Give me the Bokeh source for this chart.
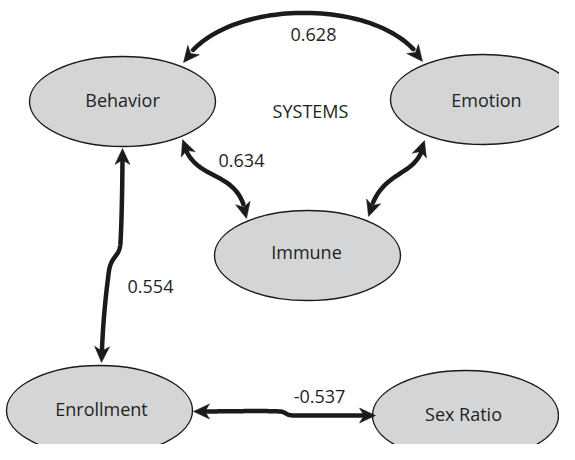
import numpy as np
from bokeh.plotting import figure
from bokeh.models import Range1d
from bokeh.embed import file_html
from bokeh.resources import INLINE
from bokeh.core.properties import value

# ---- data ----
nodes = ["Behavior", "Emotion", "Immune", "Enrollment", "Sex Ratio"]
edge_from = ["Behavior", "Behavior", "Emotion", "Behavior", "Enrollment"]
edge_to = ["Emotion", "Immune", "Immune", "Enrollment", "Sex Ratio"]
edge_values = [0.628, 0.634, None, 0.554, -0.537]
group_label = "SYSTEMS"

# ---- layout (pixel-like coordinates, y downwards) ----
node_xy = {
    "Behavior": (122, 101),
    "Emotion": (483, 99),
    "Immune": (307, 255),
    "Enrollment": (99, 410),
    "Sex Ratio": (465, 415),
}
node_label_xy = {
    "Behavior": (122, 99),
    "Emotion": (486, 99),
    "Immune": (306, 251),
    "Enrollment": (101, 408),
    "Sex Ratio": (463, 413),
}
node_w, node_h = 186, 90

edge_paths = [
    [[(183, 62), (222, -4), (385, -4), (422, 61)]],
    [[(182, 139), (192, 185), (240, 165), (246, 218)]],
    [[(424, 140), (418, 180), (380, 165), (368, 216)]],
    [[(122, 148), (122, 185), (121, 225), (120, 242)],
     [(120, 242), (119, 258), (110, 254), (108, 274)],
     [(108, 274), (104, 305), (102, 330), (101, 362)]],
    [[(193, 411), (230, 411), (260, 410), (280, 411)],
     [(280, 411), (287, 412), (284, 415), (295, 415)],
     [(295, 415), (320, 415), (350, 415), (375, 415)]],
]
edge_label_xy = [(313, 34), (241, 160), None, (150, 286), (319, 396)]
group_label_xy = (310, 110)

INK = "#1c1a1a"
TXT = "#231f20"
FILL = "#d4d5d7"
FONT = "Open Sans"
FS = "18px"


def bezier(seg, n=60):
    p = np.array(seg, dtype=float)
    t = np.linspace(0, 1, n)[:, None]
    return ((1 - t) ** 3) * p[0] + 3 * ((1 - t) ** 2) * t * p[1] + 3 * (1 - t) * t * t * p[2] + (t ** 3) * p[3]


def sample(path):
    pts = [bezier(s) for s in path]
    return np.vstack(pts)


HEAD_L, HEAD_W, NOTCH = 16, 7.5, 4.5


def head(pts, tip_index):
    tip = pts[tip_index]
    order = pts[::-1] if tip_index == -1 else pts
    dist = np.hypot(order[:, 0] - tip[0], order[:, 1] - tip[1])
    k = np.argmax(dist >= HEAD_L)
    back = order[k]
    d = tip - back
    d = d / np.hypot(*d)
    n = np.array([-d[1], d[0]])
    poly = [tip, tip - HEAD_L * d + HEAD_W * n, tip - (HEAD_L - NOTCH) * d, tip - HEAD_L * d - HEAD_W * n]
    return [q[0] for q in poly], [q[1] for q in poly]


def trim(pts, amount):
    a = pts[0]
    b = pts[-1]
    da = np.hypot(pts[:, 0] - a[0], pts[:, 1] - a[1])
    db = np.hypot(pts[:, 0] - b[0], pts[:, 1] - b[1])
    keep = (da >= amount) & (db >= amount)
    return pts[keep]


p = figure(width=559, height=444, output_backend="svg", toolbar_location=None,
           x_range=Range1d(0, 559), y_range=Range1d(444, 0), min_border=0)
p.axis.visible = False
p.grid.visible = False
p.outline_line_color = None
p.background_fill_color = "white"
p.border_fill_color = "white"

# nodes
p.ellipse(x=[node_xy[n][0] for n in nodes], y=[node_xy[n][1] for n in nodes],
          width=node_w, height=node_h, fill_color=FILL, line_color=INK, line_width=1.4)
p.text(x=[node_label_xy[n][0] for n in nodes], y=[node_label_xy[n][1] for n in nodes], text=nodes,
       text_font=value(FONT), text_font_size=FS, text_color=TXT,
       text_align="center", text_baseline="middle")

# edges
for i, (a, b) in enumerate(zip(edge_from, edge_to)):
    pts = sample(edge_paths[i])
    line = trim(pts, HEAD_L - NOTCH + 1)
    p.line(line[:, 0], line[:, 1], line_color=INK, line_width=4.5, line_cap="round", line_join="round")
    for ti in (0, -1):
        hx, hy = head(pts, ti)
        p.patch(hx, hy, fill_color=INK, line_color=INK, line_width=0.5)
    v = edge_values[i]
    if v is not None and edge_label_xy[i] is not None:
        lx, ly = edge_label_xy[i]
        p.text(x=[lx], y=[ly], text=[f"{v:.3f}"], text_font=value(FONT), text_font_size=FS,
               text_color=TXT, text_align="center", text_baseline="middle")

p.text(x=[group_label_xy[0]], y=[group_label_xy[1]], text=[group_label], text_font=value(FONT),
       text_font_size=FS, text_color=TXT, text_align="center", text_baseline="middle")

open("out.html", "w").write(file_html(p, INLINE))
